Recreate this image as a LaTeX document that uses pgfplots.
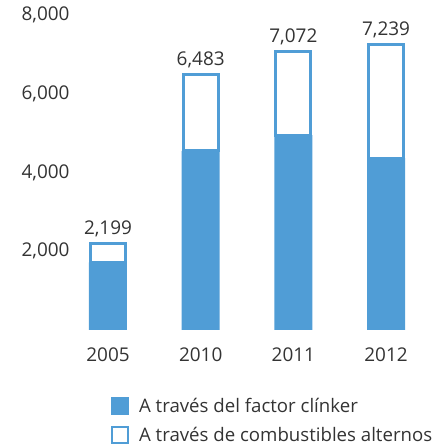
\documentclass[border=0pt]{standalone}
\usepackage{pgfplots}
\usepackage{pgfplotstable}
\pgfplotsset{compat=1.18}
\usepackage{fontspec}
\setmainfont{Open Sans}
\definecolor{barblue}{RGB}{80,157,214}
\definecolor{txt}{RGB}{51,51,51}
\pgfplotstableread{
x a b t
0 1715 484 2199
1 4550 1933 6483
2 4950 2122 7072
3 4360 2879 7239
}\datatable
\pgfplotsset{common/.style={
  at={(0,0)}, anchor=south west,
  scale only axis, width=348.1bp, height=314.8bp,
  xmin=-0.356, xmax=3.4, ymin=0, ymax=8000,
  clip=false,
  /pgf/number format/assume math mode=true,
  /pgf/number format/1000 sep={,},
}}
\begin{document}
\begin{tikzpicture}[x=1bp,y=1bp]
\path[use as bounding box] (-75,-117.2) rectangle (359,329.8);
\begin{axis}[
  common,
  ybar stacked, bar width=38bp,
  axis line style={draw=none}, major tick length=0,
  xtick=data, xticklabels={2005,2010,2011,2012},
  ytick={2000,4000,6000,8000},
  scaled y ticks=false,
  tick label style={font=\fontsize{19}{22}\selectfont, text=txt},
  yticklabel style={xshift=-2bp},
  xticklabel style={yshift=-14bp},
  legend style={draw=none, fill=none, inner sep=0pt, outer sep=0pt,
    at={(0.098,-0.21)}, anchor=north west,
    font=\fontsize{18.7}{22}\selectfont, text=txt,
    row sep=9.5bp},
  legend cell align=left,
]
\addplot[fill=barblue, draw=none,
  legend image code/.code={\fill[barblue] (2bp,-9bp) rectangle (20bp,9bp);\path[draw=none,fill=none] (0bp,0bp) rectangle (28bp,0.1bp);}]
  table[x=x,y=a] {\datatable};
\addlegendentry{A través del factor clínker}
\addplot[fill=white, draw=barblue, line width=3bp, bar width=35bp,
  legend image code/.code={\draw[barblue, fill=white, line width=2.2bp] (3.1bp,-7.9bp) rectangle (18.9bp,7.9bp);\path[draw=none,fill=none] (0bp,0bp) rectangle (28bp,0.1bp);}]
  table[x=x,y=b] {\datatable};
\addlegendentry{A través de combustibles alternos}
\end{axis}
\begin{axis}[common, hide axis]
\addplot[draw=none, mark=none, nodes near coords, point meta=explicit,
  every node near coord/.append style={font=\fontsize{19}{22}\selectfont, text=txt, anchor=south, yshift=3bp}]
  table[x=x,y=t,meta=t] {\datatable};
\end{axis}
\end{tikzpicture}
\end{document}
